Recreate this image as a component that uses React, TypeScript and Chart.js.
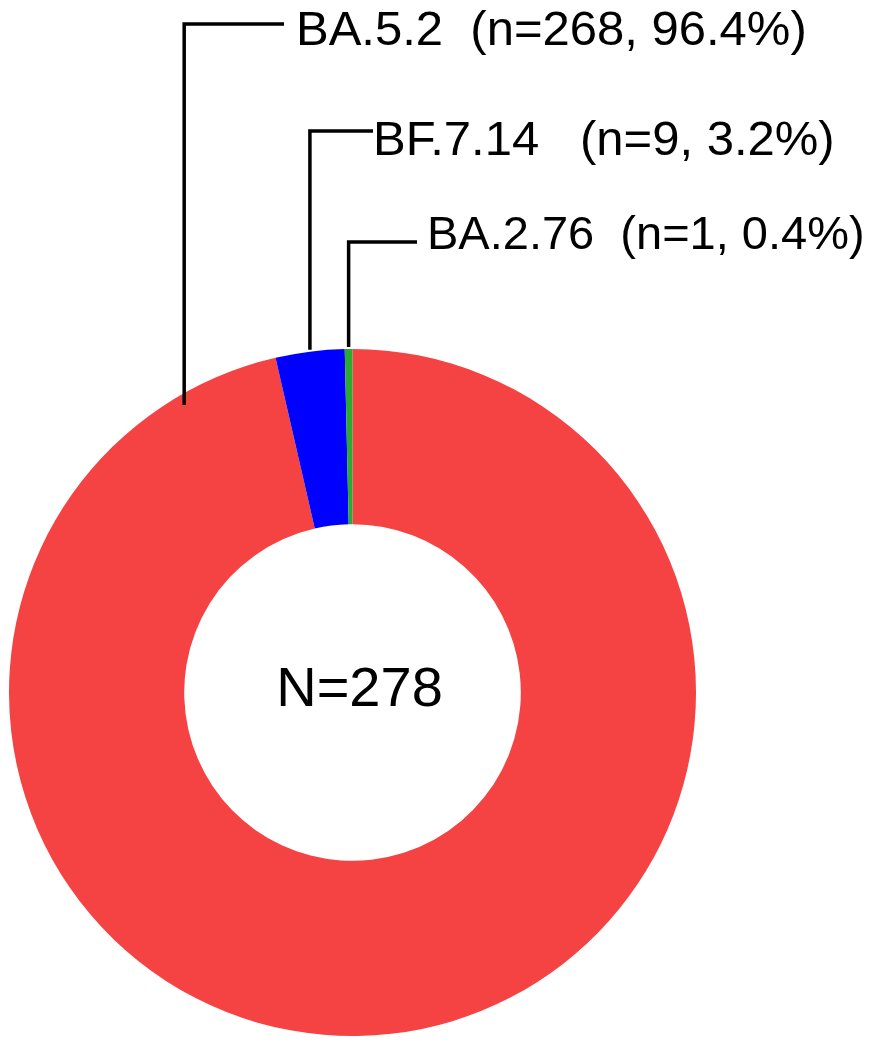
import React, { useEffect, useRef } from "react";
import { Chart, registerables } from "chart.js";

Chart.register(...registerables);

const lineages = ["BA.5.2", "BF.7.14", "BA.2.76"];
const counts = [268, 9, 1];
const percents = ["96.4%", "3.2%", "0.4%"];
const gaps = ["  ", "   ", "  "];
const colors = ["#F54242", "#0000FF", "#2EA82E"];
const totalLabel = "N=278";

const FONT = '"Liberation Sans", Arial, sans-serif';

const leaderPlugin = {
  id: "leaders",
  afterDraw(chart: any) {
    const ctx = chart.ctx;
    const meta = chart.getDatasetMeta(0);
    const arc0 = meta.data[0] as any;
    const cx = arc0.x;
    const cy = arc0.y;
    const outer = arc0.outerRadius;
    const inner = arc0.innerRadius;

    // label rows: y of the horizontal leader, x where horizontal ends, text x, text baseline, font size
    const rows = [
      { ly: 24, lx2: 284, tx: 296, ty: 45, fs: 49 },
      { ly: 131, lx2: 373, tx: 373, ty: 155, fs: 49 },
      { ly: 242, lx2: 417, tx: 427, ty: 249, fs: 47 },
    ];

    ctx.save();
    ctx.strokeStyle = "#000";
    ctx.lineWidth = 3.5;
    ctx.fillStyle = "#000";
    ctx.textBaseline = "alphabetic";
    ctx.textAlign = "left";

    meta.data.forEach((el: any, i: number) => {
      let ax: number;
      let ay: number;
      if (i === 0) {
        ax = cx - inner;
        const dx = ax - cx;
        ay = cy - Math.sqrt(outer * outer - dx * dx) + 12;
      } else {
        const mid = (el.startAngle + el.endAngle) / 2;
        ax = cx + Math.cos(mid) * outer;
        ay = cy + Math.sin(mid) * outer - 2;
      }
      const r = rows[i];
      ctx.beginPath();
      ctx.moveTo(ax, ay);
      ctx.lineTo(ax, r.ly);
      ctx.lineTo(r.lx2, r.ly);
      ctx.stroke();
      ctx.font = `${r.fs}px ${FONT}`;
      const text = `${lineages[i]}${gaps[i]}(n=${counts[i]}, ${percents[i]})`;
      ctx.fillText(text, r.tx, r.ty);
    });

    ctx.font = `56px ${FONT}`;
    ctx.textAlign = "center";
    ctx.textBaseline = "alphabetic";
    ctx.fillText(totalLabel, cx + 7, cy + 13);
    ctx.restore();
  },
};

export default function App() {
  const ref = useRef<HTMLCanvasElement | null>(null);
  useEffect(() => {
    if (!ref.current) return;
    const chart = new Chart(ref.current, {
      type: "doughnut",
      data: {
        labels: lineages,
        datasets: [
          {
            data: counts,
            backgroundColor: colors,
            borderWidth: 0,
          },
        ],
      },
      options: {
        responsive: false,
        animation: false,
        cutout: "49%",
        layout: { padding: { left: 9, right: 190, top: 349, bottom: 12 } },
        plugins: {
          legend: { display: false },
          tooltip: { enabled: false },
        },
      },
      plugins: [leaderPlugin],
    });
    return () => chart.destroy();
  }, []);
  return (
    <div style={{ position: "absolute", left: 0, top: 0, width: 886, height: 1048, background: "#fff" }}>
      <canvas ref={ref} width={886} height={1048} style={{ width: 886, height: 1048, display: "block" }} />
    </div>
  );
}
